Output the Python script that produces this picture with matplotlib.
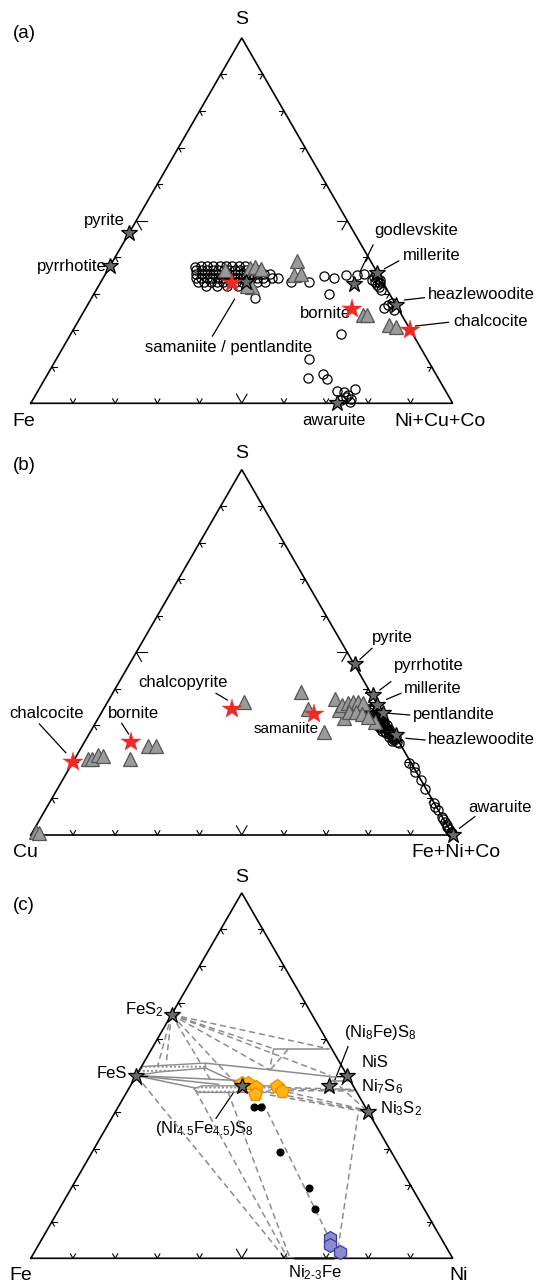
import numpy as np
import matplotlib.pyplot as plt

plt.rcParams['font.family'] = ['Liberation Sans', 'DejaVu Sans']
plt.rcParams['mathtext.fontset'] = 'custom'
plt.rcParams['mathtext.rm'] = 'Liberation Sans'
plt.rcParams['mathtext.default'] = 'regular'

W, H = 537, 1285
SIDE = 421.9      # triangle side in pixels
LEFT = 30.8       # pixel x of the left vertex
RT3 = np.sqrt(3) / 2

# ---------- panel (a): S / Fe / Ni+Cu+Co (values in %, S and right-vertex) ----------
a_circ_s = [37.6, 37.6, 37.6, 37.6, 37.6, 37.6, 37.6, 37.6,
            36.5, 36.5, 36.5, 36.5, 36.5, 36.5, 36.5, 36.5, 36.5, 36.5, 36.5, 36.5,
            35.4, 35.4, 35.4, 35.4, 35.4, 35.4, 35.4, 35.4, 35.4, 35.4, 35.4, 35.4, 35.4, 35.4,
            34.3, 34.3, 34.3, 34.3, 34.3, 34.3, 34.3, 34.3, 34.3, 34.3, 34.3, 34.3, 34.3, 34.3,
            33.2, 33.2, 33.2, 33.2, 33.2, 33.2, 33.2, 33.2, 33.2, 33.2, 33.2,
            32.2, 32.2, 32.2, 32.2, 32.2,
            37.4, 28.7, 34.4, 33.3, 33.3, 34.8, 34.2, 35.1, 35.1, 35.4, 29.9,
            19.0, 12.1, 7.0, 8.0, 6.6, 3.4, 3.2, 3.9, 1.8, 0.4, 0.9, 1.3, 2.4,
            26.0, 26.9, 27.4, 25.5,
            34.6, 33.3, 32.4, 31.7, 33.7, 33.7, 31.0, 35.0, 32.9, 34.0]
a_circ_r = [21.5, 23.0, 24.5, 26.0, 27.5, 29.0, 30.5, 32.0,
            21.0, 22.3, 23.6, 24.9, 26.2, 27.5, 28.8, 30.1, 31.4, 32.7, 34.0, 35.5,
            21.5, 22.8, 24.1, 25.4, 26.7, 28.0, 29.3, 30.6, 31.9, 33.2, 34.5, 36.0, 37.5, 39.0,
            22.0, 23.3, 24.6, 25.9, 27.2, 28.5, 29.8, 31.1, 32.4, 33.7, 35.0, 36.5, 38.0, 40.0,
            23.0, 24.5, 26.0, 27.5, 29.0, 30.5, 32.0, 33.5, 35.0, 37.0, 39.0,
            25.5, 28.0, 30.5, 33.0, 35.5,
            20.3, 38.9, 41.5, 45.1, 49.4, 52.2, 54.8, 57.1, 59.7, 61.3, 55.8,
            64.0, 59.8, 62.1, 65.3, 67.0, 70.9, 72.6, 74.8, 73.7, 75.4, 73.1, 75.2, 73.9,
            70.7, 71.3, 72.0, 73.4,
            64.0, 65.0, 65.9, 66.6, 65.9, 64.0, 67.6, 64.4, 66.2, 65.3]
a_tri_s = [39.0, 35.0, 35.4, 36.9, 37.4, 36.7, 31.9, 32.1, 36.5, 24.2, 24.2, 21.4, 21.0]
a_tri_r = [43.7, 44.9, 46.3, 33.4, 34.5, 36.3, 36.5, 35.2, 27.7, 66.7, 67.7, 74.2, 76.1]
a_star_s = [46.5, 37.6, 32.6, 35.6, 26.9, 33.3, 0.0]
a_star_r = [0.0, 0.0, 60.2, 64.2, 73.2, 34.3, 72.5]
a_red_s = [32.8, 25.7, 20.0]
a_red_r = [31.2, 63.2, 79.8]

# ---------- panel (b): S / Cu / Fe+Ni+Co (S and Cu given) ----------
b_circ_s = [35.1, 34.6, 34.3, 33.9, 33.7, 33.2, 32.8, 32.5, 32.3, 31.9, 31.6, 31.4,
            31.0, 30.7, 30.3, 30.05, 29.6, 29.3, 29.0, 28.7, 28.3, 28.0, 27.6, 27.3,
            27.0, 26.7, 26.3, 26.0, 25.5, 25.05, 34.8, 33.5, 32.0, 30.9, 29.9, 28.5,
            34.0, 33.0, 32.6, 31.2, 30.5, 29.8, 29.2, 28.1, 27.8, 26.9, 26.5, 25.8,
            19.6, 18.5, 17.3, 15.0, 12.5, 8.65, 7.74, 6.83, 5.0, 4.3, 3.6, 2.7,
            2.3, 1.55, 0.9, 0.46]
b_circ_cu = [1.0, 2.5, 2.0, 1.0, 3.0, 1.0, 2.5, 1.5, 0.5, 3.0, 2.0, 1.5,
             0.8, 2.0, 1.2, 0.5, 2.2, 1.5, 0.6, 1.0, 1.8, 0.5, 1.2, 1.0,
             0.4, 0.2, 1.0, 0.8, 0.5, 0.3, 3.5, 4.0, 2.0, 3.2, 2.8, 2.4,
             3.8, 3.4, 2.8, 2.6, 3.0, 1.6, 2.6, 1.4, 2.0, 1.6, 0.6, 1.4,
             0.5, 0.0, 0.3, 0.0, 0.2, 0.0, 0.3, 0.0, 0.0, 0.2, 0.0, 0.0,
             0.2, 0.0, 0.0, 0.0]
b_tri_s = [0.9, 0.6, 20.9, 20.7, 21.9, 21.6, 20.9, 24.3, 24.3, 36.4, 39.2, 34.6, 28.2,
           37.1, 31.9, 31.0, 34.2, 35.5, 36.2, 36.4, 36.4, 36.2, 33.7, 33.7, 33.1, 32.3]
b_tri_r = [0.8, 1.7, 3.2, 4.1, 4.9, 6.2, 13.1, 15.7, 17.5, 32.3, 44.5, 48.4, 55.5,
           53.6, 58.3, 66.1, 56.0, 56.1, 57.0, 58.1, 59.3, 60.6, 58.6, 60.3, 62.0, 63.8]
b_star_s = [46.9, 38.3, 35.5, 33.4, 27.3, 0.0]
b_star_r = [53.3, 61.9, 64.2, 66.7, 72.8, 100.0]
b_red_s = [20.0, 25.5, 34.6, 33.1]
b_red_r = [0.0, 11.0, 30.4, 50.6]

# ---------- panel (c): S / Fe / Ni (atomic %) ----------
c_star_s = [66.7, 50.0, 47.06, 47.06, 50.0, 40.0]
c_star_r = [0.0, 0.0, 26.47, 47.06, 50.0, 60.0]
c_pent_s = [48.1, 47.9, 46.85, 45.0, 47.2, 45.7]
c_pent_r = [25.9, 27.6, 30.0, 30.7, 34.8, 36.6]
c_dot_s = [41.3, 41.3, 29.2, 19.2, 13.4]
c_dot_r = [32.25, 33.95, 44.5, 56.3, 60.7]
c_hex_s = [5.5, 3.65, 1.8]
c_hex_r = [68.25, 69.2, 72.4]

# tie lines (dashed) and phase boundaries (solid): (S, Ni) end points
c_tie = [((66.7, 0.0), (57.35, 41.9)), ((66.7, 0.0), (50.0, 46.0)),
         ((66.7, 0.0), (51.6, 30.8)), ((66.7, 0.0), (47.6, 25.0)),
         ((66.7, 0.0), (47.9, 19.1)), ((66.7, 0.0), (53.4, 5.4)),
         ((66.7, 0.0), (52.5, 3.8)), ((66.7, 0.0), (57.35, 28.9)),
         ((50.0, 0.0), (0.3, 59.9)), ((46.0, 16.0), (0.3, 60.6)),
         ((45.5, 24.0), (0.3, 61.2)), ((45.0, 31.5), (5.5, 68.0)),
         ((39.3, 57.9), (1.8, 71.8)),
         ((44.7, 34.3), (40.0, 60.0)), ((45.5, 33.5), (40.3, 59.5)),
         ((46.1, 35.5), (40.6, 59.0)),
         ((46.8, 34.5), (46.2, 53.8)), ((46.4, 36.0), (46.0, 54.0)),
         ((45.9, 38.0), (45.8, 54.2)),
         ((57.35, 28.9), (51.6, 30.8)), ((57.1, 32.4), (51.8, 31.0)),
         ((48.9, 47.0), (40.3, 59.6))]
c_bound = [((57.35, 28.9), (57.35, 41.9)),
           ((53.4, 14.7), (51.6, 30.8)), ((51.6, 30.8), (49.75, 46.0)),
           ((49.75, 46.0), (49.75, 50.2)), ((49.75, 46.0), (48.6, 46.6)),
           ((48.6, 46.6), (48.6, 51.3)),
           ((50.0, 0.0), (46.6, 15.7)), ((50.0, 0.0), (47.6, 20.7)),
           ((50.0, 0.0), (48.6, 26.0)), ((52.05, 15.4), (47.4, 26.5))]
c_po_loop_s = [50.0, 52.5, 53.4, 53.4, 52.05, 51.0, 50.0]
c_po_loop_r = [0.0, 0.3, 14.2, 14.7, 15.4, 5.0, 0.0]
c_pn_loop_s = [46.4, 47.2, 47.2, 46.3, 45.4, 45.4, 46.4]
c_pn_loop_r = [15.4, 17.0, 33.0, 34.0, 33.0, 17.0, 15.4]
c_alloy_r = [62.3, 71.8]


def tern(s, r):
    s = np.asarray(s, dtype=float) / 100
    r = np.asarray(r, dtype=float) / 100
    return r + s / 2, s * RT3


def add_panel(fig, top, bot, base):
    ax = fig.add_axes([0, 1 - bot / H, 1, (bot - top) / H], zorder=2)
    ax.set_xlim(-LEFT / SIDE, (W - LEFT) / SIDE)
    ax.set_ylim((base - bot) / SIDE, (base - top) / SIDE)
    ax.axis('off')
    ax.plot([0, 1, 0.5, 0], [0, 0, RT3, 0], color='black', lw=1.2,
            solid_joinstyle='miter', zorder=3)
    # chevron ticks every 10 % along the grid directions, bigger at 50 %
    edges = [(lambda f: (f, 0.0), (60, 120)),
             (lambda f: (f / 2, f * RT3), (0, -60)),
             (lambda f: (1 - f / 2, f * RT3), (180, 240))]
    for pos, angs in edges:
        for i in range(1, 10):
            f = i / 10
            L = 0.025 if i == 5 else 0.012
            x0, y0 = pos(f)
            for a in angs:
                t = np.radians(a)
                ax.plot([x0, x0 + L * np.cos(t)], [y0, y0 + L * np.sin(t)],
                        color='black', lw=0.8, zorder=3)
    return ax


fig = plt.figure(figsize=(W / 100, H / 100), dpi=100)
txt = fig.add_axes([0, 0, 1, 1], zorder=1)
txt.set_xlim(0, W)
txt.set_ylim(H, 0)
txt.axis('off')

ax_a = add_panel(fig, 0, 430, 403.3)
ax_b = add_panel(fig, 430, 850, 835.0)
ax_c = add_panel(fig, 850, 1285, 1258.3)

circ = dict(ls='none', marker='o', ms=6.6, mfc='none', mec='black', mew=0.9, clip_on=False)
tri = dict(ls='none', marker='^', ms=10, mfc='#9a9a9a', mec='#555555', mew=0.9, clip_on=False)
gstar = dict(ls='none', marker='*', ms=12, mfc='#6a6a6a', mec='black', mew=0.9, clip_on=False)
rstar = dict(ls='none', marker='*', ms=15, mfc='#ec2a26', mec='#ec2a26', mew=0.3, clip_on=False)

# panel (a)
ax_a.plot(*tern(a_circ_s, a_circ_r), zorder=4, **circ)
ax_a.plot(*tern(a_tri_s, a_tri_r), zorder=5, **tri)
ax_a.plot(*tern(a_star_s, a_star_r), zorder=6, **gstar)
ax_a.plot(*tern(a_red_s, a_red_r), zorder=7, **rstar)

# panel (b)
b_circ_r = [100 - s - c for s, c in zip(b_circ_s, b_circ_cu)]
ax_b.plot(*tern(b_circ_s, b_circ_r), zorder=4, **circ)
ax_b.plot(*tern(b_tri_s, b_tri_r), zorder=5, **tri)
ax_b.plot(*tern(b_star_s, b_star_r), zorder=6, **gstar)
ax_b.plot(*tern(b_red_s, b_red_r), zorder=7, **rstar)

# panel (c)
for p, q in c_tie:
    ax_c.plot(*tern([p[0], q[0]], [p[1], q[1]]), color='#8c8c8c', lw=1.1,
              dashes=(4, 2.5), zorder=2)
for p, q in c_bound:
    ax_c.plot(*tern([p[0], q[0]], [p[1], q[1]]), color='#8c8c8c', lw=1.1, zorder=2)
for ls_, lr_ in [(c_po_loop_s, c_po_loop_r), (c_pn_loop_s, c_pn_loop_r)]:
    ax_c.fill(*tern(ls_, lr_), facecolor='white', edgecolor='#8c8c8c', lw=1.0,
              hatch='....', zorder=2)
ax_c.plot(*tern([0, 0], c_alloy_r), color='#8c8c8c', lw=2.2, zorder=2, solid_capstyle='butt')
ax_c.plot(*tern(c_dot_s, c_dot_r), ls='none', marker='o', ms=4.8, mfc='black', mec='black', zorder=5)
ax_c.plot(*tern(c_pent_s, c_pent_r), ls='none', marker='p', ms=10, mfc='#ffb515',
          mec='#f08a00', mew=0.9, zorder=5)
ax_c.plot(*tern(c_hex_s, c_hex_r), ls='none', marker='h', ms=10, mfc='#8c8ccc',
          mec='#3a3aa0', mew=0.9, zorder=5, clip_on=False)
ax_c.plot(*tern(c_star_s, c_star_r), zorder=6, **gstar)

# ---------- labels ----------
fs_v, fs_l = 14, 12
for lab, x, y in [('(a)', 24, 33), ('(b)', 24, 465), ('(c)', 24, 905)]:
    txt.text(x, y, lab, fontsize=13.5, ha='center', va='center')
for lab, x, y in [('S', 241.8, 19.5), ('Fe', 24, 421), ('Ni+Cu+Co', 440, 421),
                  ('S', 241.8, 453), ('Cu', 25.7, 852.5), ('Fe+Ni+Co', 455.5, 852.5),
                  ('S', 241.8, 878), ('Fe', 20.5, 1275), ('Ni', 459, 1275)]:
    txt.text(x, y, lab, fontsize=fs_v, ha='center', va='center')

labels = [
    ('pyrite', 103.9, 220, None), ('pyrrhotite', 71.3, 266.7, None),
    ('godlevskite', 416.5, 231, (373, 245, 360, 271.7)),
    ('millerite', 431.3, 255.7, (398.7, 261, 384.6, 268.7)),
    ('heazlewoodite', 481.7, 294.3, (424.4, 297.7, 404.5, 300)),
    ('chalcocite', 491, 321.7, (448.4, 322.3, 415.5, 326)),
    ('bornite', 325.7, 313.3, None),
    ('samaniite / pentlandite', 229, 347.7, (212.5, 336, 234.5, 299.3)),
    ('awaruite', 333.6, 420.7, None),
    ('pyrite', 392.5, 637.7, (372, 648.3, 360, 659.3)),
    ('pyrrhotite', 428.5, 665.7, (390.8, 681.7, 379.8, 690)),
    ('millerite', 433, 688.3, (401, 693.3, 386.7, 699.3)),
    ('pentlandite', 454.2, 714.3, (409.7, 715, 389, 713.3)),
    ('heazlewoodite', 481.7, 739, (425, 740, 406, 738.3)),
    ('awaruite', 499.8, 807.7, (474.8, 816.7, 459.4, 828.3)),
    ('chalcocite', 47, 713.3, (39.4, 724, 65.8, 752.7)),
    ('bornite', 133, 713.3, (121.7, 723.3, 128.6, 734)),
    ('chalcopyrite', 183.4, 682.3, (216, 693.3, 227.3, 700)),
    ('FeS$_2$', 144, 1009.3, None), ('FeS', 111.4, 1073.3, None),
    ('(Ni$_8$Fe)S$_8$', 380.5, 1032.7, (348, 1046.7, 334.2, 1081.7)),
    ('NiS', 375.4, 1062.7, None), ('Ni$_7$S$_6$', 382.2, 1086.7, None),
    ('Ni$_3$S$_2$', 401, 1108.3, None),
    ('(Ni$_{4.5}$Fe$_{4.5}$)S$_8$', 204, 1128.3, (216, 1118.3, 233, 1093.3)),
    ('Ni$_{2\\text{-}3}$Fe', 315.4, 1272.7, None),
]
for lab, x, y, ld in labels:
    txt.text(x, y, lab, fontsize=fs_l, ha='center', va='center')
    if ld is not None:
        txt.plot([ld[0], ld[2]], [ld[1], ld[3]], color='black', lw=0.9)
txt.text(286.3, 729, 'samaniite', fontsize=11, ha='center', va='center')

fig.savefig('out.png', dpi=100)
